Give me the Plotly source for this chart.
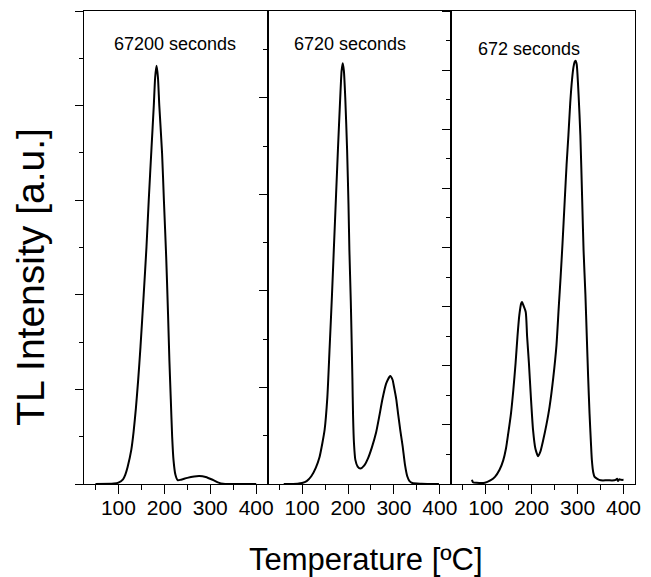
import plotly.graph_objects as go

# Glow curves (temperature in °C, TL intensity in arbitrary units) for three storage times
temp_67200 = [50, 90, 100, 110, 115, 120, 128, 133, 138, 143, 148, 155, 161, 166, 172, 177, 180, 183,
              186, 189, 195, 199, 204, 208, 211, 214, 217, 220, 224, 229, 236, 250, 265, 276, 290,
              305, 318, 328, 340, 400]
tl_67200 = [0, 0.005, 0.015, 0.05, 0.1, 0.18, 0.36, 0.55, 0.8, 1.1, 1.45, 2.0, 2.5, 3.0, 3.55, 4.0, 4.3, 4.42,
            4.3, 4.0, 3.5, 3.0, 2.4, 1.8, 1.3, 0.9, 0.5, 0.25, 0.1, 0.04, 0.045, 0.065, 0.08, 0.085, 0.075,
            0.045, 0.015, 0.003, 0, 0]

temp_6720 = [60, 90, 100, 110, 120, 130, 138, 144, 149, 155, 160, 165, 169, 174, 178, 183, 186, 188.5,
             191, 194, 198, 201, 203, 206, 208, 209.5, 211, 213, 216, 221, 227, 235, 243, 252, 261, 268,
             275, 283, 292, 297, 300, 305, 309, 314, 319, 324, 329, 334, 340, 360, 398]
tl_6720 = [0, 0.003, 0.01, 0.03, 0.08, 0.17, 0.28, 0.42, 0.56, 0.9, 1.42, 1.95, 2.42, 3.0, 3.46, 4.0, 4.28, 4.36,
           4.28, 4.0, 3.46, 2.9, 2.42, 1.9, 1.46, 1.1, 0.7, 0.42, 0.25, 0.18, 0.16, 0.19, 0.26, 0.38, 0.53, 0.7,
           0.88, 1.04, 1.12, 1.08, 1.01, 0.88, 0.73, 0.55, 0.39, 0.2, 0.08, 0.03, 0.01, 0.003, 0]

temp_672 = [70, 72, 80, 98, 110, 120, 130, 138, 144, 149, 155, 160, 165, 169, 173, 177, 179, 182, 187,
            190, 194, 198, 203, 208, 214, 219, 225, 232, 239, 247, 254, 259, 263, 267, 272, 276, 280,
            284, 288, 291, 293.5, 295.5, 298, 302, 306, 310, 313, 317, 320, 323, 326, 329, 331, 334, 337,
            342, 347, 355, 365, 375, 383, 386, 388, 391, 395, 400]
tl_672 = [0.07, 0.03, 0.02, 0.02, 0.06, 0.12, 0.24, 0.4, 0.6, 0.86, 1.2, 1.59, 2.05, 2.49, 2.85, 3.05, 3.08, 3.02,
          2.91, 2.5, 2.04, 1.5, 0.91, 0.6, 0.47, 0.55, 0.74, 1.0, 1.31, 1.8, 2.35, 3.0, 3.5, 4.05, 4.8, 5.4, 5.9,
          6.45, 6.85, 7.05, 7.14, 7.16, 7.1, 6.6, 5.9, 4.8, 3.95, 3.2, 2.5, 1.8, 1.19, 0.7, 0.41, 0.2, 0.12,
          0.09, 0.07, 0.06, 0.065, 0.06, 0.07, 0.09, 0.05, 0.08, 0.07, 0.07]

panel_labels = ["67200 seconds", "6720 seconds", "672 seconds"]
y_tops = [5.0, 4.9, 8.0]
x_ticks = [100, 200, 300, 400]

FONT = "Liberation Sans, Arial, sans-serif"
curves = [(temp_67200, tl_67200), (temp_6720, tl_6720), (temp_672, tl_672)]

fig = go.Figure()
for i, (t, v) in enumerate(curves):
    sfx = "" if i == 0 else str(i + 1)
    fig.add_trace(go.Scatter(
        x=t, y=v, mode="lines", xaxis="x" + sfx, yaxis="y" + sfx,
        line=dict(color="black", width=2, shape="spline", smoothing=0.6),
        showlegend=False, hoverinfo="skip",
    ))

layout = dict(
    width=651, height=577,
    margin=dict(l=84, r=11, t=10, b=93),
    paper_bgcolor="white", plot_bgcolor="white",
    font=dict(family=FONT, color="black"),
    annotations=[],
)
bounds = [0, 1 / 3, 2 / 3, 1]
for i in range(3):
    sfx = "" if i == 0 else str(i + 1)
    layout["xaxis" + sfx] = dict(
        domain=[bounds[i], bounds[i + 1]], anchor="y" + sfx, range=[25, 425],
        tickvals=x_ticks, ticks="outside", ticklen=9, tickwidth=1.3, tickcolor="black",
        minor=dict(dtick=50, tick0=0, ticks="outside", ticklen=5, tickwidth=1.3, tickcolor="black"),
        showline=True, linecolor="black", linewidth=1.3, mirror=True,
        showgrid=False, zeroline=False, ticklabelstandoff=-4,
        tickfont=dict(size=21, family=FONT, color="black"),
    )
    layout["yaxis" + sfx] = dict(
        domain=[0, 1], anchor="x" + sfx, range=[0, y_tops[i]],
        dtick=1, tick0=0, ticks="outside", ticklen=8, tickwidth=1.3, tickcolor="black",
        minor=dict(dtick=0.5, tick0=0, ticks="outside", ticklen=4, tickwidth=1.3, tickcolor="black"),
        showticklabels=False,
        showline=True, linecolor="black", linewidth=1.3, mirror=True,
        showgrid=False, zeroline=False,
    )

# Storage time labels inside each panel
label_pos = [(0.165, 0.930), (0.482, 0.930), (0.808, 0.920)]
for text, (px, py) in zip(panel_labels, label_pos):
    layout["annotations"].append(dict(
        text=text, x=px, y=py, xref="paper", yref="paper", showarrow=False,
        xanchor="center", yanchor="middle", font=dict(size=18, family=FONT, color="black"),
    ))

# Axis titles
layout["annotations"].append(dict(
    text="Temperature [ºC]", x=0.512, y=-0.16, xref="paper", yref="paper", showarrow=False,
    xanchor="center", yanchor="middle", font=dict(size=31, family=FONT, color="black"),
))
layout["annotations"].append(dict(
    text="TL Intensity [a.u.]", x=-0.097, y=0.437, xref="paper", yref="paper", showarrow=False,
    xanchor="center", yanchor="middle", textangle=-90, font=dict(size=39, family=FONT, color="black"),
))

fig.update_layout(**layout)
fig.write_html("out.html")
